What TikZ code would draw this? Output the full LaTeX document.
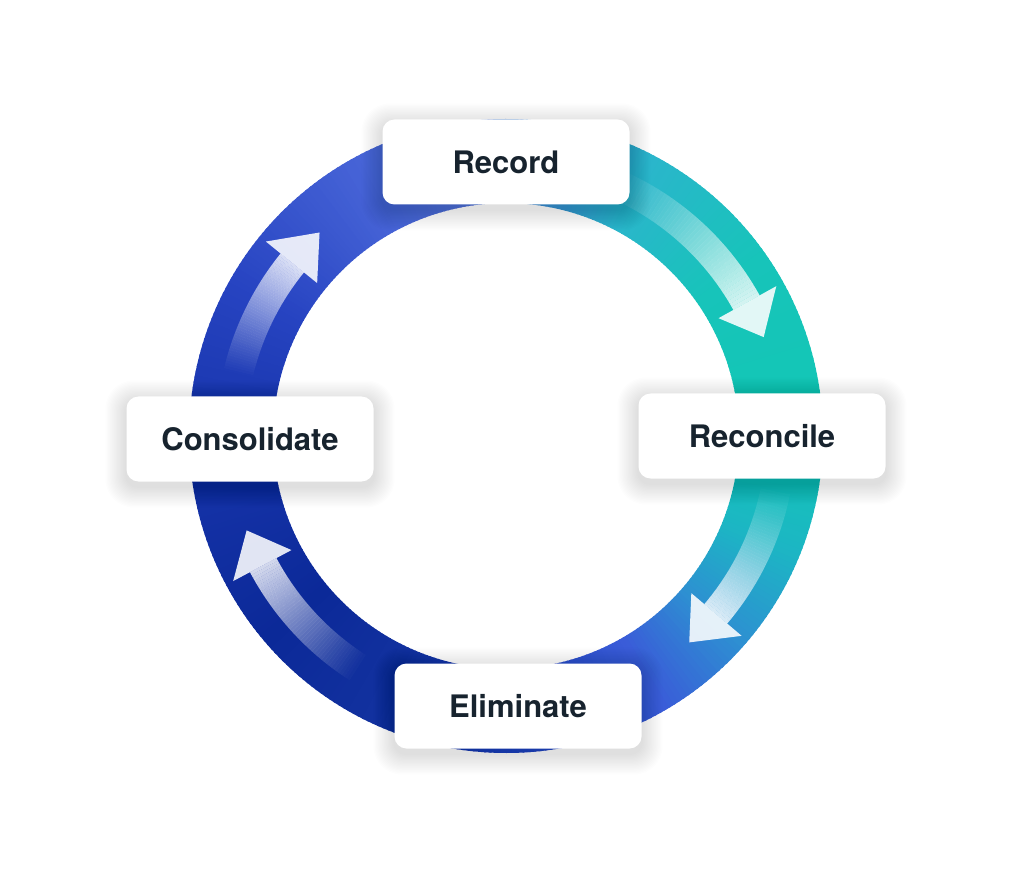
\documentclass[tikz,border=0pt]{standalone}
\usepackage{fontspec}
\setmainfont{TeX Gyre Heros}
\usetikzlibrary{calc}
\pgfdeclarelayer{ringl}
\pgfdeclarelayer{shadl}
\pgfsetlayers{ringl,shadl,main}
\definecolor{txt}{HTML}{17232E}
\definecolor{k0}{HTML}{1835AC}
\definecolor{k1}{HTML}{0B2998}
\definecolor{k2}{HTML}{12319F}
\definecolor{k3}{HTML}{2546C6}
\definecolor{k4}{HTML}{3A5CD8}
\definecolor{k5}{HTML}{2E8ED2}
\definecolor{k6}{HTML}{1CB6C4}
\definecolor{k7}{HTML}{12C7B5}
\definecolor{k8}{HTML}{17C4BA}
\definecolor{k9}{HTML}{2AB6CB}
\definecolor{k10}{HTML}{3F98D6}
\definecolor{k11}{HTML}{5270DA}
\definecolor{k12}{HTML}{4562D6}
\definecolor{k13}{HTML}{2744C2}
\tikzset{
  stagebox/.style={fill=white, rounded corners=12pt, minimum width=247pt, minimum height=85pt,
    text=txt, font=\fontsize{31}{36}\selectfont\bfseries, inner sep=0pt},
}
\newcommand\ringarrow[3]{%
  \foreach \k in {0,...,47}{
    \pgfmathsetmacro\sa{#1+(#2-#1)*\k/48}
    \pgfmathsetmacro\sb{#1+(#2-#1)*(\k+1)/48}
    \pgfmathsetmacro\op{0.82*((\k+0.5)/48)^1.1}
    \fill[white, fill opacity=\op] ($(C)+(\sa:290pt)$) arc[start angle=\sa, end angle=\sb, radius=290pt]
      -- ($(C)+(\sb:260pt)$) arc[start angle=\sb, end angle=\sa, radius=260pt] -- cycle;
  }
  \fill[white, fill opacity=0.88] ($(C)+(#2:243pt)$) -- ($(C)+(#2:309pt)$) -- ($(C)+(#3:276pt)$) -- cycle;
}
\newcommand\softshadow[1]{%
  \foreach \i in {1,...,16}{
    \pgfmathsetmacro\rr{12+\i}
    \pgfmathsetmacro\dd{1.3*\i}
    \fill[black, fill opacity=0.0085, rounded corners=\rr pt]
      ($(#1.south west)+(-\dd pt,-\dd pt-5pt)$) rectangle ($(#1.north east)+(\dd pt,\dd pt-5pt)$);
  }
}
\begin{document}
\begin{tikzpicture}[x=1pt,y=1pt]
\useasboundingbox (0,0) rectangle (1024,879);
\coordinate (C) at (506,443);
\begin{pgfonlayer}{ringl}
\fill[white] (0,0) rectangle (1024,879);
% ring with conical gradient
\foreach \a/\b/\ca/\cb in {-180/-140/k0/k1, -140/-115/k1/k2, -115/-90/k2/k3, -90/-60/k3/k4,
   -60/-42/k4/k5, -42/-22/k5/k6, -22/0/k6/k7, 0/35/k7/k8, 35/62/k8/k9, 62/80/k9/k10,
   80/100/k10/k11, 100/120/k11/k12, 120/150/k12/k13, 150/180/k13/k0}{
  \pgfmathtruncatemacro\n{\b-\a-1}
  \foreach \i in {0,...,\n}{
    \pgfmathsetmacro\s{\a+\i}
    \pgfmathsetmacro\e{\a+\i+1.4}
    \pgfmathtruncatemacro\p{100*(\i+0.5)/(\b-\a)}
    \fill[color=\cb!\p!\ca] ($(C)+(\s:317pt)$) arc[start angle=\s, end angle=\e, radius=317pt]
      -- ($(C)+(\e:233pt)$) arc[start angle=\e, end angle=\s, radius=233pt] -- cycle;
  }
}
% arrows
\ringarrow{66}{29}{21}
\ringarrow{-11}{-40.3}{-48.4}
\ringarrow{238}{208}{200}
\ringarrow{167}{141}{132.5}
\end{pgfonlayer}
% stages
\node[stagebox] (record) at (506,717) {Record};
\node[stagebox] (reconcile) at (762,443) {Reconcile};
\node[stagebox] (eliminate) at (518,173) {Eliminate};
\node[stagebox] (consolidate) at (250,440) {Consolidate};
\begin{pgfonlayer}{shadl}
\softshadow{record}
\softshadow{reconcile}
\softshadow{eliminate}
\softshadow{consolidate}
\end{pgfonlayer}
\end{tikzpicture}
\end{document}
